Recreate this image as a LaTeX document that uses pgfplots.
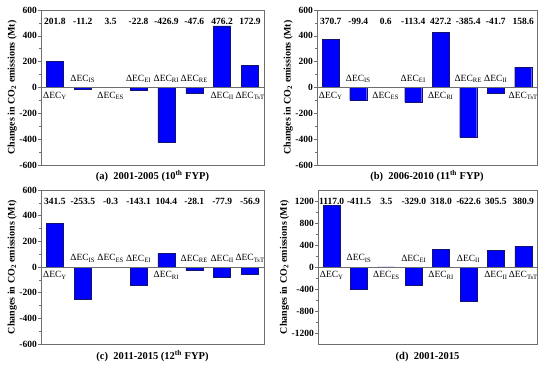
\documentclass[border=0pt]{standalone}
\usepackage{fontspec}
\setmainfont{Liberation Serif}
\usepackage{pgfplots}
\pgfplotsset{compat=1.18}
\definecolor{axgray}{RGB}{110,110,110}
\definecolor{barblue}{RGB}{0,0,255}
\definecolor{bardraw}{RGB}{20,20,110}

\pgfplotsset{
  panel/.style={
    scale only axis,
    xmin=-0.5, xmax=7.5,
    xtick=\empty,
    axis line style={axgray, line width=0.6pt},
    ytick pos=left,
    tick align=outside,
    major tick length=3pt,
    minor tick length=1.8pt,
    minor y tick num=1,
    every tick/.style={axgray, line width=0.5pt},
    /pgf/number format/assume math mode=true,
    /pgf/number format/1000 sep={},
    yticklabel style={font=\fontsize{9.5}{10}\selectfont\bfseries, inner sep=1pt},
    ylabel={Changes in CO\textsubscript{2} emissions (Mt)},
    ylabel style={font=\fontsize{10}{11}\selectfont\bfseries, yshift=-2pt},
    xlabel style={font=\fontsize{10.5}{12}\selectfont\bfseries, at={(axis description cs:0.5,0)}, anchor=center},
    clip=false,
  },
  bars/.style={ybar, bar width=17pt, fill=barblue, draw=bardraw, line width=0.4pt},
  zeroline/.style={axgray, line width=0.5pt, mark=none},
  vals/.style={draw=none, mark=none, nodes near coords, point meta=explicit symbolic,
    every node near coord/.append style={anchor=center, font=\fontsize{9.5}{10}\selectfont\bfseries, inner sep=0pt}},
  labup/.style={draw=none, mark=none, nodes near coords, point meta=explicit symbolic,
    every node near coord/.append style={anchor=south, yshift=4.5pt, font=\fontsize{9.5}{10}\selectfont, inner sep=0pt}},
  labdn/.style={draw=none, mark=none, nodes near coords, point meta=explicit symbolic,
    every node near coord/.append style={anchor=north, yshift=-4.5pt, font=\fontsize{9.5}{10}\selectfont, inner sep=0pt}},
}
\newcommand{\EC}[1]{ΔEC\textsubscript{#1}}

\begin{document}
\begin{tikzpicture}
\useasboundingbox (0,0) rectangle (550pt,370pt);

% (a)
\begin{axis}[panel, at={(41pt,205pt)}, anchor=south west, width=223pt, height=155pt,
  ymin=-600, ymax=600, ytick={-600,-400,...,600},
  xlabel={(a)\ \ 2001-2005 (10\textsuperscript{th} FYP)}, xlabel style={yshift=-11pt}]
\addplot[bars] coordinates {(0,201.8) (1,-11.2) (2,3.5) (3,-22.8) (4,-426.9) (5,-47.6) (6,476.2) (7,172.9)};
\addplot[zeroline] coordinates {(-0.5,0) (7.5,0)};
\addplot[vals] coordinates {(0,510)[201.8] (1,510)[-11.2] (2,510)[3.5] (3,510)[-22.8] (4,510)[-426.9] (5,510)[-47.6] (6,510)[476.2] (7,510)[172.9]};
\addplot[labdn] coordinates {(0,0)[{\EC{Y}}] (2,0)[{\EC{ES}}] (6,0)[{\EC{II}}] (7,0)[{\EC{TsT}}]};
\addplot[labup] coordinates {(1,0)[{\EC{IS}}] (3,0)[{\EC{EI}}] (4,0)[{\EC{RI}}] (5,0)[{\EC{RE}}]};
\end{axis}

% (b)
\begin{axis}[panel, at={(317pt,205pt)}, anchor=south west, width=220pt, height=155pt,
  ymin=-600, ymax=600, ytick={-600,-400,...,600},
  xlabel={(b)\ \ 2006-2010 (11\textsuperscript{th} FYP)}, xlabel style={yshift=-11pt}]
\addplot[bars] coordinates {(0,370.7) (1,-99.4) (2,0.6) (3,-113.4) (4,427.2) (5,-385.4) (6,-41.7) (7,158.6)};
\addplot[zeroline] coordinates {(-0.5,0) (7.5,0)};
\addplot[vals] coordinates {(0,510)[370.7] (1,510)[-99.4] (2,510)[0.6] (3,510)[-113.4] (4,510)[427.2] (5,510)[-385.4] (6,510)[-41.7] (7,510)[158.6]};
\addplot[labdn] coordinates {(0,0)[{\EC{Y}}] (2,0)[{\EC{ES}}] (4,0)[{\EC{RI}}] (7,0)[{\EC{TsT}}]};
\addplot[labup] coordinates {(1,0)[{\EC{IS}}] (3,0)[{\EC{EI}}] (5,0)[{\EC{RE}}] (6,0)[{\EC{II}}]};
\end{axis}

% (c)
\begin{axis}[panel, at={(41pt,26pt)}, anchor=south west, width=223pt, height=154pt,
  ymin=-600, ymax=600, ytick={-600,-400,...,600},
  xlabel={(c)\ \ 2011-2015 (12\textsuperscript{th} FYP)}, xlabel style={yshift=-12pt}]
\addplot[bars] coordinates {(0,341.5) (1,-253.5) (2,-0.3) (3,-143.1) (4,104.4) (5,-28.1) (6,-77.9) (7,-56.9)};
\addplot[zeroline] coordinates {(-0.5,0) (7.5,0)};
\addplot[vals] coordinates {(0,510)[341.5] (1,510)[-253.5] (2,510)[-0.3] (3,510)[-143.1] (4,510)[104.4] (5,510)[-28.1] (6,510)[-77.9] (7,510)[-56.9]};
\addplot[labdn] coordinates {(0,0)[{\EC{Y}}] (4,0)[{\EC{RI}}]};
\addplot[labup] coordinates {(1,0)[{\EC{IS}}] (2,0)[{\EC{ES}}] (3,0)[{\EC{EI}}] (5,0)[{\EC{RE}}] (6,0)[{\EC{II}}] (7,0)[{\EC{TsT}}]};
\end{axis}

% (d)
\begin{axis}[panel, at={(318pt,26pt)}, anchor=south west, width=219pt, height=154pt,
  ymin=-1400, ymax=1400, ytick={-1200,-800,...,1200},
  xlabel={(d)\ \ 2001-2015}, xlabel style={yshift=-13pt}]
\addplot[bars] coordinates {(0,1117.0) (1,-411.5) (2,3.5) (3,-329.0) (4,318.0) (5,-622.6) (6,305.5) (7,380.9)};
\addplot[zeroline] coordinates {(-0.5,0) (7.5,0)};
\addplot[vals] coordinates {(0,1200)[1117.0] (1,1200)[-411.5] (2,1200)[3.5] (3,1200)[-329.0] (4,1200)[318.0] (5,1200)[-622.6] (6,1200)[305.5] (7,1200)[380.9]};
\addplot[labdn] coordinates {(0,0)[{\EC{Y}}] (2,0)[{\EC{ES}}] (4,0)[{\EC{RI}}] (6,0)[{\EC{II}}] (7,0)[{\EC{TsT}}]};
\addplot[labup] coordinates {(1,0)[{\EC{IS}}] (3,0)[{\EC{EI}}] (5,0)[{\EC{II}}]};
\end{axis}
\end{tikzpicture}
\end{document}
